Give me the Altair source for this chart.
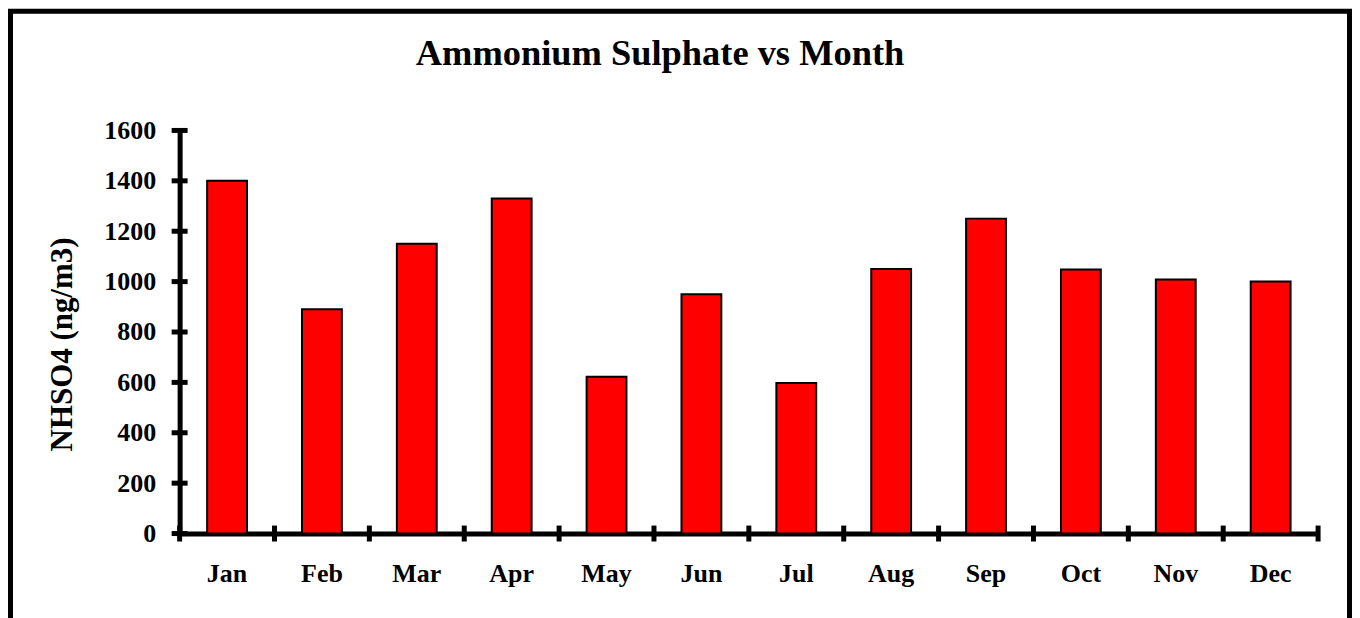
import altair as alt
import pandas as pd

months = ["Jan", "Feb", "Mar", "Apr", "May", "Jun", "Jul", "Aug", "Sep", "Oct", "Nov", "Dec"]
values = [1400, 890, 1150, 1330, 622, 950, 598, 1050, 1250, 1048, 1008, 1000]
y_ticks = [0, 200, 400, 600, 800, 1000, 1200, 1400, 1600]
title_text = "Ammonium Sulphate vs Month"
y_title = "NHSO4 (ng/m3)"

W, H = 1141, 404
FONT = "Liberation Serif"

bars_df = pd.DataFrame({"month": months, "value": values})
ytick_df = pd.DataFrame({"value": y_ticks})
xtick_df = pd.DataFrame({"month": months})
xend_df = pd.DataFrame({"month": [months[-1]]})
one = pd.DataFrame({"k": [0]})

x_scale = alt.Scale(domain=months, paddingInner=0, paddingOuter=0)
y_scale = alt.Scale(domain=[0, 1600], nice=False)

x_axis = alt.Axis(
    ticks=False, domainColor="black", domainWidth=5,
    labelFont=FONT, labelFontSize=26, labelFontWeight="bold", labelColor="black",
    labelPadding=27, labelAngle=0, title=None, grid=False,
)
y_axis = alt.Axis(
    values=y_ticks, ticks=False, domainColor="black", domainWidth=5,
    labelFont=FONT, labelFontSize=26, labelFontWeight="bold", labelColor="black",
    labelPadding=24, grid=False, format="d", labelOverlap=False,
    title=y_title, titleFont=FONT, titleFontSize=31, titleFontWeight="bold",
    titleColor="black", titleX=-117, titleY=214, titleAngle=270,
    titleBaseline="middle", titleAlign="center",
)

frame = alt.Chart(one).mark_rect(fill="transparent", stroke="black", strokeWidth=5).encode(
    x=alt.value(-169.5), x2=alt.value(1172.5), y=alt.value(-119.5), y2=alt.value(520)
)

bars = alt.Chart(bars_df).mark_bar(
    color="#FF0000", stroke="black", strokeWidth=2, width=alt.RelativeBandSize(0.42)
).encode(
    x=alt.X("month:N", scale=x_scale, axis=x_axis, sort=months),
    y=alt.Y("value:Q", scale=y_scale, axis=y_axis),
)

yticks = alt.Chart(ytick_df).mark_rule(color="black", strokeWidth=5).encode(
    y=alt.Y("value:Q", scale=y_scale, axis=y_axis),
    x=alt.value(-8), x2=alt.value(8),
)

xticks = alt.Chart(xtick_df).mark_rule(color="black", strokeWidth=5).encode(
    x=alt.X("month:N", scale=x_scale, axis=x_axis, sort=months, bandPosition=0),
    y=alt.value(H - 8), y2=alt.value(H + 8),
)

xend = alt.Chart(xend_df).mark_rule(color="black", strokeWidth=5).encode(
    x=alt.X("month:N", scale=x_scale, axis=x_axis, sort=months, bandPosition=1),
    y=alt.value(H - 8), y2=alt.value(H + 8),
)

title = alt.Chart(one).mark_text(
    font=FONT, fontSize=36.5, fontWeight="bold", color="black",
    align="center", baseline="alphabetic",
).encode(x=alt.value(481.5), y=alt.value(-66), text=alt.value(title_text))

chart = alt.layer(frame, bars, yticks, xticks, xend, title).properties(
    width=W, height=H, padding=0, background="white"
).configure_view(strokeWidth=0)

chart.save("out.html", embed_options={"renderer": "svg", "actions": False})
